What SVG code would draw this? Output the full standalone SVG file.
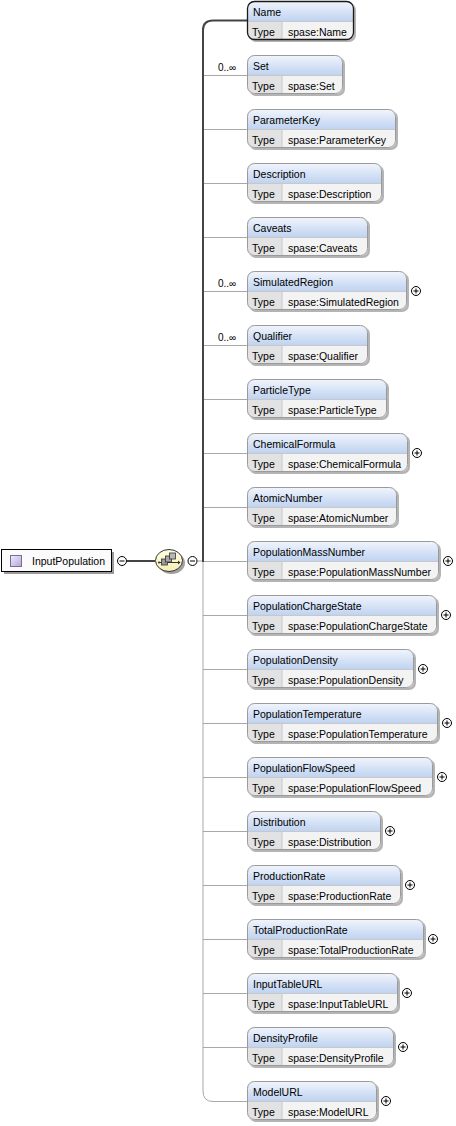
<svg xmlns="http://www.w3.org/2000/svg" width="456" height="1126" viewBox="0 0 456 1126">
<style>
.t{font-family:"Liberation Sans",Arial,sans-serif;font-size:10.5px;fill:#000}
.m{font-family:"Liberation Sans",Arial,sans-serif;font-size:10px;fill:#000}
.sh{fill:#b4b4b4}
.bg{fill:#f3f3f3}
.hd{fill:url(#hg)}
.tc{fill:#e2e2e2}
.sep{fill:none;stroke:#c8c8c8;stroke-width:1}
.bd{fill:none;stroke:#9a9a9a;stroke-width:1}
.bdr{fill:none;stroke:#1a1a1a;stroke-width:1.3}
.thin{fill:none;stroke:#a8a8a8;stroke-width:1}
.thick{fill:none;stroke:#444;stroke-width:2}
.pm{fill:#fff;stroke:#000;stroke-width:1}
.pml{fill:none;stroke:#000;stroke-width:1}
</style>
<defs>
<linearGradient id="hg" x1="0" y1="0" x2="0" y2="1">
<stop offset="0" stop-color="#f1f5fc"/>
<stop offset="1" stop-color="#bfd3f1"/>
</linearGradient>
<linearGradient id="ig" x1="0" y1="0" x2="1" y2="1">
<stop offset="0" stop-color="#f2eefa"/>
<stop offset="1" stop-color="#b3a4d6"/>
</linearGradient>
<linearGradient id="sg" x1="0" y1="0" x2="0" y2="1">
<stop offset="0" stop-color="#ffffe6"/>
<stop offset="1" stop-color="#f4eeb4"/>
</linearGradient>
</defs>

<g id="connectors">
<path class="thin" d="M203,561V1091Q203,1101.5 213,1101.5H247"/>
<path class="thin" d="M203,75.5H247M203,129.5H247M203,183.5H247M203,237.5H247M203,291.5H247M203,345.5H247M203,399.5H247M203,453.5H247M203,507.5H247M203,561.5H247M203,615.5H247M203,669.5H247M203,723.5H247M203,777.5H247M203,831.5H247M203,885.5H247M203,939.5H247M203,993.5H247M203,1047.5H247"/>
<path class="thin" d="M197,561H203"/>
<path class="thick" d="M203,562V30Q203,20.5 213,20.5H247"/>
<path class="thick" d="M127,561H155"/>
<text class="m" x="218" y="71">0..∞</text>
<text class="m" x="218" y="287">0..∞</text>
<text class="m" x="218" y="341">0..∞</text>
</g>

<g id="InputPopulation">
<rect x="4" y="552" width="110" height="22" fill="#9a9a9a"/>
<rect x="1.5" y="549.5" width="110" height="22" fill="#fbfbfb" stroke="#000" stroke-width="1"/>
<rect x="10.5" y="555.5" width="11" height="11" fill="url(#ig)" stroke="#7a6a9e" stroke-width="1"/>
<text class="t" x="32" y="565">InputPopulation</text>
<circle class="pm" cx="122" cy="561" r="4.5"/>
<path class="pml" d="M119.5,561H124.5"/>
</g>

<g id="sequence">
<ellipse cx="171.5" cy="563" rx="13.5" ry="11" fill="#a0a0a0"/>
<ellipse cx="169" cy="560.5" rx="13.5" ry="11" fill="url(#sg)" stroke="#333" stroke-width="1"/>
<path d="M159,562.5H180" stroke="#333" stroke-width="1"/>
<rect x="161.5" y="559" width="6" height="6" fill="#9a9a9a" stroke="#333" stroke-width="0.8"/>
<rect x="165.5" y="556" width="6" height="6" fill="#a8a8a8" stroke="#333" stroke-width="0.8"/>
<rect x="169.5" y="553" width="6" height="6" fill="#b8b8b8" stroke="#333" stroke-width="0.8"/>
<circle cx="159" cy="562.5" r="1" fill="#333"/>
<path d="M178,560.5L180.5,562.5L178,564.5Z" fill="#333"/>
<circle class="pm" cx="192.5" cy="561" r="4.5"/>
<path class="pml" d="M190,561H195"/>
</g>

<g id="Name" transform="translate(247,1)">
<rect class="sh" x="2" y="2" width="107" height="39" rx="7"/>
<rect class="bg" width="107" height="39" rx="7"/>
<path class="hd" d="M0.5,20V7.5A7,7 0 0 1 7.5,0.5H99.5A7,7 0 0 1 106.5,7.5V20Z"/>
<path class="tc" d="M0.5,20H35V38.5H7.5A7,7 0 0 1 0.5,31.5Z"/>
<path class="sep" d="M0.5,20.5H106.5M35,20.5V38.5"/>
<rect class="bdr" x="0.5" y="0.5" width="106" height="38" rx="7"/>
<text class="t" x="6" y="14.5">Name</text>
<text class="t" x="5" y="34.5">Type</text>
<text class="t" x="41" y="34.5">spase:Name</text>
</g>

<g id="Set" transform="translate(247,55)">
<rect class="sh" x="2" y="2" width="96" height="39" rx="7"/>
<rect class="bg" width="96" height="39" rx="7"/>
<path class="hd" d="M0.5,20V7.5A7,7 0 0 1 7.5,0.5H88.5A7,7 0 0 1 95.5,7.5V20Z"/>
<path class="tc" d="M0.5,20H35V38.5H7.5A7,7 0 0 1 0.5,31.5Z"/>
<path class="sep" d="M0.5,20.5H95.5M35,20.5V38.5"/>
<rect class="bd" x="0.5" y="0.5" width="95" height="38" rx="7"/>
<text class="t" x="6" y="14.5">Set</text>
<text class="t" x="5" y="34.5">Type</text>
<text class="t" x="41" y="34.5">spase:Set</text>
</g>

<g id="ParameterKey" transform="translate(247,109)">
<rect class="sh" x="2" y="2" width="149" height="39" rx="7"/>
<rect class="bg" width="149" height="39" rx="7"/>
<path class="hd" d="M0.5,20V7.5A7,7 0 0 1 7.5,0.5H141.5A7,7 0 0 1 148.5,7.5V20Z"/>
<path class="tc" d="M0.5,20H35V38.5H7.5A7,7 0 0 1 0.5,31.5Z"/>
<path class="sep" d="M0.5,20.5H148.5M35,20.5V38.5"/>
<rect class="bd" x="0.5" y="0.5" width="148" height="38" rx="7"/>
<text class="t" x="6" y="14.5">ParameterKey</text>
<text class="t" x="5" y="34.5">Type</text>
<text class="t" x="41" y="34.5">spase:ParameterKey</text>
</g>

<g id="Description" transform="translate(247,163)">
<rect class="sh" x="2" y="2" width="135" height="39" rx="7"/>
<rect class="bg" width="135" height="39" rx="7"/>
<path class="hd" d="M0.5,20V7.5A7,7 0 0 1 7.5,0.5H127.5A7,7 0 0 1 134.5,7.5V20Z"/>
<path class="tc" d="M0.5,20H35V38.5H7.5A7,7 0 0 1 0.5,31.5Z"/>
<path class="sep" d="M0.5,20.5H134.5M35,20.5V38.5"/>
<rect class="bd" x="0.5" y="0.5" width="134" height="38" rx="7"/>
<text class="t" x="6" y="14.5">Description</text>
<text class="t" x="5" y="34.5">Type</text>
<text class="t" x="41" y="34.5">spase:Description</text>
</g>

<g id="Caveats" transform="translate(247,217)">
<rect class="sh" x="2" y="2" width="121" height="39" rx="7"/>
<rect class="bg" width="121" height="39" rx="7"/>
<path class="hd" d="M0.5,20V7.5A7,7 0 0 1 7.5,0.5H113.5A7,7 0 0 1 120.5,7.5V20Z"/>
<path class="tc" d="M0.5,20H35V38.5H7.5A7,7 0 0 1 0.5,31.5Z"/>
<path class="sep" d="M0.5,20.5H120.5M35,20.5V38.5"/>
<rect class="bd" x="0.5" y="0.5" width="120" height="38" rx="7"/>
<text class="t" x="6" y="14.5">Caveats</text>
<text class="t" x="5" y="34.5">Type</text>
<text class="t" x="41" y="34.5">spase:Caveats</text>
</g>

<g id="SimulatedRegion" transform="translate(247,271)">
<rect class="sh" x="2" y="2" width="160" height="39" rx="7"/>
<rect class="bg" width="160" height="39" rx="7"/>
<path class="hd" d="M0.5,20V7.5A7,7 0 0 1 7.5,0.5H152.5A7,7 0 0 1 159.5,7.5V20Z"/>
<path class="tc" d="M0.5,20H35V38.5H7.5A7,7 0 0 1 0.5,31.5Z"/>
<path class="sep" d="M0.5,20.5H159.5M35,20.5V38.5"/>
<rect class="bd" x="0.5" y="0.5" width="159" height="38" rx="7"/>
<text class="t" x="6" y="14.5">SimulatedRegion</text>
<text class="t" x="5" y="34.5">Type</text>
<text class="t" x="41" y="34.5">spase:SimulatedRegion</text>
<circle class="pm" cx="169" cy="20" r="4.5"/>
<path class="pml" d="M166.5,20H171.5M169,17.5V22.5"/>
</g>

<g id="Qualifier" transform="translate(247,325)">
<rect class="sh" x="2" y="2" width="121" height="39" rx="7"/>
<rect class="bg" width="121" height="39" rx="7"/>
<path class="hd" d="M0.5,20V7.5A7,7 0 0 1 7.5,0.5H113.5A7,7 0 0 1 120.5,7.5V20Z"/>
<path class="tc" d="M0.5,20H35V38.5H7.5A7,7 0 0 1 0.5,31.5Z"/>
<path class="sep" d="M0.5,20.5H120.5M35,20.5V38.5"/>
<rect class="bd" x="0.5" y="0.5" width="120" height="38" rx="7"/>
<text class="t" x="6" y="14.5">Qualifier</text>
<text class="t" x="5" y="34.5">Type</text>
<text class="t" x="41" y="34.5">spase:Qualifier</text>
</g>

<g id="ParticleType" transform="translate(247,379)">
<rect class="sh" x="2" y="2" width="140" height="39" rx="7"/>
<rect class="bg" width="140" height="39" rx="7"/>
<path class="hd" d="M0.5,20V7.5A7,7 0 0 1 7.5,0.5H132.5A7,7 0 0 1 139.5,7.5V20Z"/>
<path class="tc" d="M0.5,20H35V38.5H7.5A7,7 0 0 1 0.5,31.5Z"/>
<path class="sep" d="M0.5,20.5H139.5M35,20.5V38.5"/>
<rect class="bd" x="0.5" y="0.5" width="139" height="38" rx="7"/>
<text class="t" x="6" y="14.5">ParticleType</text>
<text class="t" x="5" y="34.5">Type</text>
<text class="t" x="41" y="34.5">spase:ParticleType</text>
</g>

<g id="ChemicalFormula" transform="translate(247,433)">
<rect class="sh" x="2" y="2" width="161" height="39" rx="7"/>
<rect class="bg" width="161" height="39" rx="7"/>
<path class="hd" d="M0.5,20V7.5A7,7 0 0 1 7.5,0.5H153.5A7,7 0 0 1 160.5,7.5V20Z"/>
<path class="tc" d="M0.5,20H35V38.5H7.5A7,7 0 0 1 0.5,31.5Z"/>
<path class="sep" d="M0.5,20.5H160.5M35,20.5V38.5"/>
<rect class="bd" x="0.5" y="0.5" width="160" height="38" rx="7"/>
<text class="t" x="6" y="14.5">ChemicalFormula</text>
<text class="t" x="5" y="34.5">Type</text>
<text class="t" x="41" y="34.5">spase:ChemicalFormula</text>
<circle class="pm" cx="170" cy="20" r="4.5"/>
<path class="pml" d="M167.5,20H172.5M170,17.5V22.5"/>
</g>

<g id="AtomicNumber" transform="translate(247,487)">
<rect class="sh" x="2" y="2" width="150" height="39" rx="7"/>
<rect class="bg" width="150" height="39" rx="7"/>
<path class="hd" d="M0.5,20V7.5A7,7 0 0 1 7.5,0.5H142.5A7,7 0 0 1 149.5,7.5V20Z"/>
<path class="tc" d="M0.5,20H35V38.5H7.5A7,7 0 0 1 0.5,31.5Z"/>
<path class="sep" d="M0.5,20.5H149.5M35,20.5V38.5"/>
<rect class="bd" x="0.5" y="0.5" width="149" height="38" rx="7"/>
<text class="t" x="6" y="14.5">AtomicNumber</text>
<text class="t" x="5" y="34.5">Type</text>
<text class="t" x="41" y="34.5">spase:AtomicNumber</text>
</g>

<g id="PopulationMassNumber" transform="translate(247,541)">
<rect class="sh" x="2" y="2" width="192" height="39" rx="7"/>
<rect class="bg" width="192" height="39" rx="7"/>
<path class="hd" d="M0.5,20V7.5A7,7 0 0 1 7.5,0.5H184.5A7,7 0 0 1 191.5,7.5V20Z"/>
<path class="tc" d="M0.5,20H35V38.5H7.5A7,7 0 0 1 0.5,31.5Z"/>
<path class="sep" d="M0.5,20.5H191.5M35,20.5V38.5"/>
<rect class="bd" x="0.5" y="0.5" width="191" height="38" rx="7"/>
<text class="t" x="6" y="14.5">PopulationMassNumber</text>
<text class="t" x="5" y="34.5">Type</text>
<text class="t" x="41" y="34.5">spase:PopulationMassNumber</text>
<circle class="pm" cx="201" cy="20" r="4.5"/>
<path class="pml" d="M198.5,20H203.5M201,17.5V22.5"/>
</g>

<g id="PopulationChargeState" transform="translate(247,595)">
<rect class="sh" x="2" y="2" width="190" height="39" rx="7"/>
<rect class="bg" width="190" height="39" rx="7"/>
<path class="hd" d="M0.5,20V7.5A7,7 0 0 1 7.5,0.5H182.5A7,7 0 0 1 189.5,7.5V20Z"/>
<path class="tc" d="M0.5,20H35V38.5H7.5A7,7 0 0 1 0.5,31.5Z"/>
<path class="sep" d="M0.5,20.5H189.5M35,20.5V38.5"/>
<rect class="bd" x="0.5" y="0.5" width="189" height="38" rx="7"/>
<text class="t" x="6" y="14.5">PopulationChargeState</text>
<text class="t" x="5" y="34.5">Type</text>
<text class="t" x="41" y="34.5">spase:PopulationChargeState</text>
<circle class="pm" cx="199" cy="20" r="4.5"/>
<path class="pml" d="M196.5,20H201.5M199,17.5V22.5"/>
</g>

<g id="PopulationDensity" transform="translate(247,649)">
<rect class="sh" x="2" y="2" width="167" height="39" rx="7"/>
<rect class="bg" width="167" height="39" rx="7"/>
<path class="hd" d="M0.5,20V7.5A7,7 0 0 1 7.5,0.5H159.5A7,7 0 0 1 166.5,7.5V20Z"/>
<path class="tc" d="M0.5,20H35V38.5H7.5A7,7 0 0 1 0.5,31.5Z"/>
<path class="sep" d="M0.5,20.5H166.5M35,20.5V38.5"/>
<rect class="bd" x="0.5" y="0.5" width="166" height="38" rx="7"/>
<text class="t" x="6" y="14.5">PopulationDensity</text>
<text class="t" x="5" y="34.5">Type</text>
<text class="t" x="41" y="34.5">spase:PopulationDensity</text>
<circle class="pm" cx="176" cy="20" r="4.5"/>
<path class="pml" d="M173.5,20H178.5M176,17.5V22.5"/>
</g>

<g id="PopulationTemperature" transform="translate(247,703)">
<rect class="sh" x="2" y="2" width="191" height="39" rx="7"/>
<rect class="bg" width="191" height="39" rx="7"/>
<path class="hd" d="M0.5,20V7.5A7,7 0 0 1 7.5,0.5H183.5A7,7 0 0 1 190.5,7.5V20Z"/>
<path class="tc" d="M0.5,20H35V38.5H7.5A7,7 0 0 1 0.5,31.5Z"/>
<path class="sep" d="M0.5,20.5H190.5M35,20.5V38.5"/>
<rect class="bd" x="0.5" y="0.5" width="190" height="38" rx="7"/>
<text class="t" x="6" y="14.5">PopulationTemperature</text>
<text class="t" x="5" y="34.5">Type</text>
<text class="t" x="41" y="34.5">spase:PopulationTemperature</text>
<circle class="pm" cx="200" cy="20" r="4.5"/>
<path class="pml" d="M197.5,20H202.5M200,17.5V22.5"/>
</g>

<g id="PopulationFlowSpeed" transform="translate(247,757)">
<rect class="sh" x="2" y="2" width="186" height="39" rx="7"/>
<rect class="bg" width="186" height="39" rx="7"/>
<path class="hd" d="M0.5,20V7.5A7,7 0 0 1 7.5,0.5H178.5A7,7 0 0 1 185.5,7.5V20Z"/>
<path class="tc" d="M0.5,20H35V38.5H7.5A7,7 0 0 1 0.5,31.5Z"/>
<path class="sep" d="M0.5,20.5H185.5M35,20.5V38.5"/>
<rect class="bd" x="0.5" y="0.5" width="185" height="38" rx="7"/>
<text class="t" x="6" y="14.5">PopulationFlowSpeed</text>
<text class="t" x="5" y="34.5">Type</text>
<text class="t" x="41" y="34.5">spase:PopulationFlowSpeed</text>
<circle class="pm" cx="195" cy="20" r="4.5"/>
<path class="pml" d="M192.5,20H197.5M195,17.5V22.5"/>
</g>

<g id="Distribution" transform="translate(247,811)">
<rect class="sh" x="2" y="2" width="134" height="39" rx="7"/>
<rect class="bg" width="134" height="39" rx="7"/>
<path class="hd" d="M0.5,20V7.5A7,7 0 0 1 7.5,0.5H126.5A7,7 0 0 1 133.5,7.5V20Z"/>
<path class="tc" d="M0.5,20H35V38.5H7.5A7,7 0 0 1 0.5,31.5Z"/>
<path class="sep" d="M0.5,20.5H133.5M35,20.5V38.5"/>
<rect class="bd" x="0.5" y="0.5" width="133" height="38" rx="7"/>
<text class="t" x="6" y="14.5">Distribution</text>
<text class="t" x="5" y="34.5">Type</text>
<text class="t" x="41" y="34.5">spase:Distribution</text>
<circle class="pm" cx="143" cy="20" r="4.5"/>
<path class="pml" d="M140.5,20H145.5M143,17.5V22.5"/>
</g>

<g id="ProductionRate" transform="translate(247,865)">
<rect class="sh" x="2" y="2" width="154" height="39" rx="7"/>
<rect class="bg" width="154" height="39" rx="7"/>
<path class="hd" d="M0.5,20V7.5A7,7 0 0 1 7.5,0.5H146.5A7,7 0 0 1 153.5,7.5V20Z"/>
<path class="tc" d="M0.5,20H35V38.5H7.5A7,7 0 0 1 0.5,31.5Z"/>
<path class="sep" d="M0.5,20.5H153.5M35,20.5V38.5"/>
<rect class="bd" x="0.5" y="0.5" width="153" height="38" rx="7"/>
<text class="t" x="6" y="14.5">ProductionRate</text>
<text class="t" x="5" y="34.5">Type</text>
<text class="t" x="41" y="34.5">spase:ProductionRate</text>
<circle class="pm" cx="163" cy="20" r="4.5"/>
<path class="pml" d="M160.5,20H165.5M163,17.5V22.5"/>
</g>

<g id="TotalProductionRate" transform="translate(247,919)">
<rect class="sh" x="2" y="2" width="177" height="39" rx="7"/>
<rect class="bg" width="177" height="39" rx="7"/>
<path class="hd" d="M0.5,20V7.5A7,7 0 0 1 7.5,0.5H169.5A7,7 0 0 1 176.5,7.5V20Z"/>
<path class="tc" d="M0.5,20H35V38.5H7.5A7,7 0 0 1 0.5,31.5Z"/>
<path class="sep" d="M0.5,20.5H176.5M35,20.5V38.5"/>
<rect class="bd" x="0.5" y="0.5" width="176" height="38" rx="7"/>
<text class="t" x="6" y="14.5">TotalProductionRate</text>
<text class="t" x="5" y="34.5">Type</text>
<text class="t" x="41" y="34.5">spase:TotalProductionRate</text>
<circle class="pm" cx="186" cy="20" r="4.5"/>
<path class="pml" d="M183.5,20H188.5M186,17.5V22.5"/>
</g>

<g id="InputTableURL" transform="translate(247,973)">
<rect class="sh" x="2" y="2" width="151" height="39" rx="7"/>
<rect class="bg" width="151" height="39" rx="7"/>
<path class="hd" d="M0.5,20V7.5A7,7 0 0 1 7.5,0.5H143.5A7,7 0 0 1 150.5,7.5V20Z"/>
<path class="tc" d="M0.5,20H35V38.5H7.5A7,7 0 0 1 0.5,31.5Z"/>
<path class="sep" d="M0.5,20.5H150.5M35,20.5V38.5"/>
<rect class="bd" x="0.5" y="0.5" width="150" height="38" rx="7"/>
<text class="t" x="6" y="14.5">InputTableURL</text>
<text class="t" x="5" y="34.5">Type</text>
<text class="t" x="41" y="34.5">spase:InputTableURL</text>
<circle class="pm" cx="160" cy="20" r="4.5"/>
<path class="pml" d="M157.5,20H162.5M160,17.5V22.5"/>
</g>

<g id="DensityProfile" transform="translate(247,1027)">
<rect class="sh" x="2" y="2" width="147" height="39" rx="7"/>
<rect class="bg" width="147" height="39" rx="7"/>
<path class="hd" d="M0.5,20V7.5A7,7 0 0 1 7.5,0.5H139.5A7,7 0 0 1 146.5,7.5V20Z"/>
<path class="tc" d="M0.5,20H35V38.5H7.5A7,7 0 0 1 0.5,31.5Z"/>
<path class="sep" d="M0.5,20.5H146.5M35,20.5V38.5"/>
<rect class="bd" x="0.5" y="0.5" width="146" height="38" rx="7"/>
<text class="t" x="6" y="14.5">DensityProfile</text>
<text class="t" x="5" y="34.5">Type</text>
<text class="t" x="41" y="34.5">spase:DensityProfile</text>
<circle class="pm" cx="156" cy="20" r="4.5"/>
<path class="pml" d="M153.5,20H158.5M156,17.5V22.5"/>
</g>

<g id="ModelURL" transform="translate(247,1081)">
<rect class="sh" x="2" y="2" width="130" height="39" rx="7"/>
<rect class="bg" width="130" height="39" rx="7"/>
<path class="hd" d="M0.5,20V7.5A7,7 0 0 1 7.5,0.5H122.5A7,7 0 0 1 129.5,7.5V20Z"/>
<path class="tc" d="M0.5,20H35V38.5H7.5A7,7 0 0 1 0.5,31.5Z"/>
<path class="sep" d="M0.5,20.5H129.5M35,20.5V38.5"/>
<rect class="bd" x="0.5" y="0.5" width="129" height="38" rx="7"/>
<text class="t" x="6" y="14.5">ModelURL</text>
<text class="t" x="5" y="34.5">Type</text>
<text class="t" x="41" y="34.5">spase:ModelURL</text>
<circle class="pm" cx="139" cy="20" r="4.5"/>
<path class="pml" d="M136.5,20H141.5M139,17.5V22.5"/>
</g>
</svg>
